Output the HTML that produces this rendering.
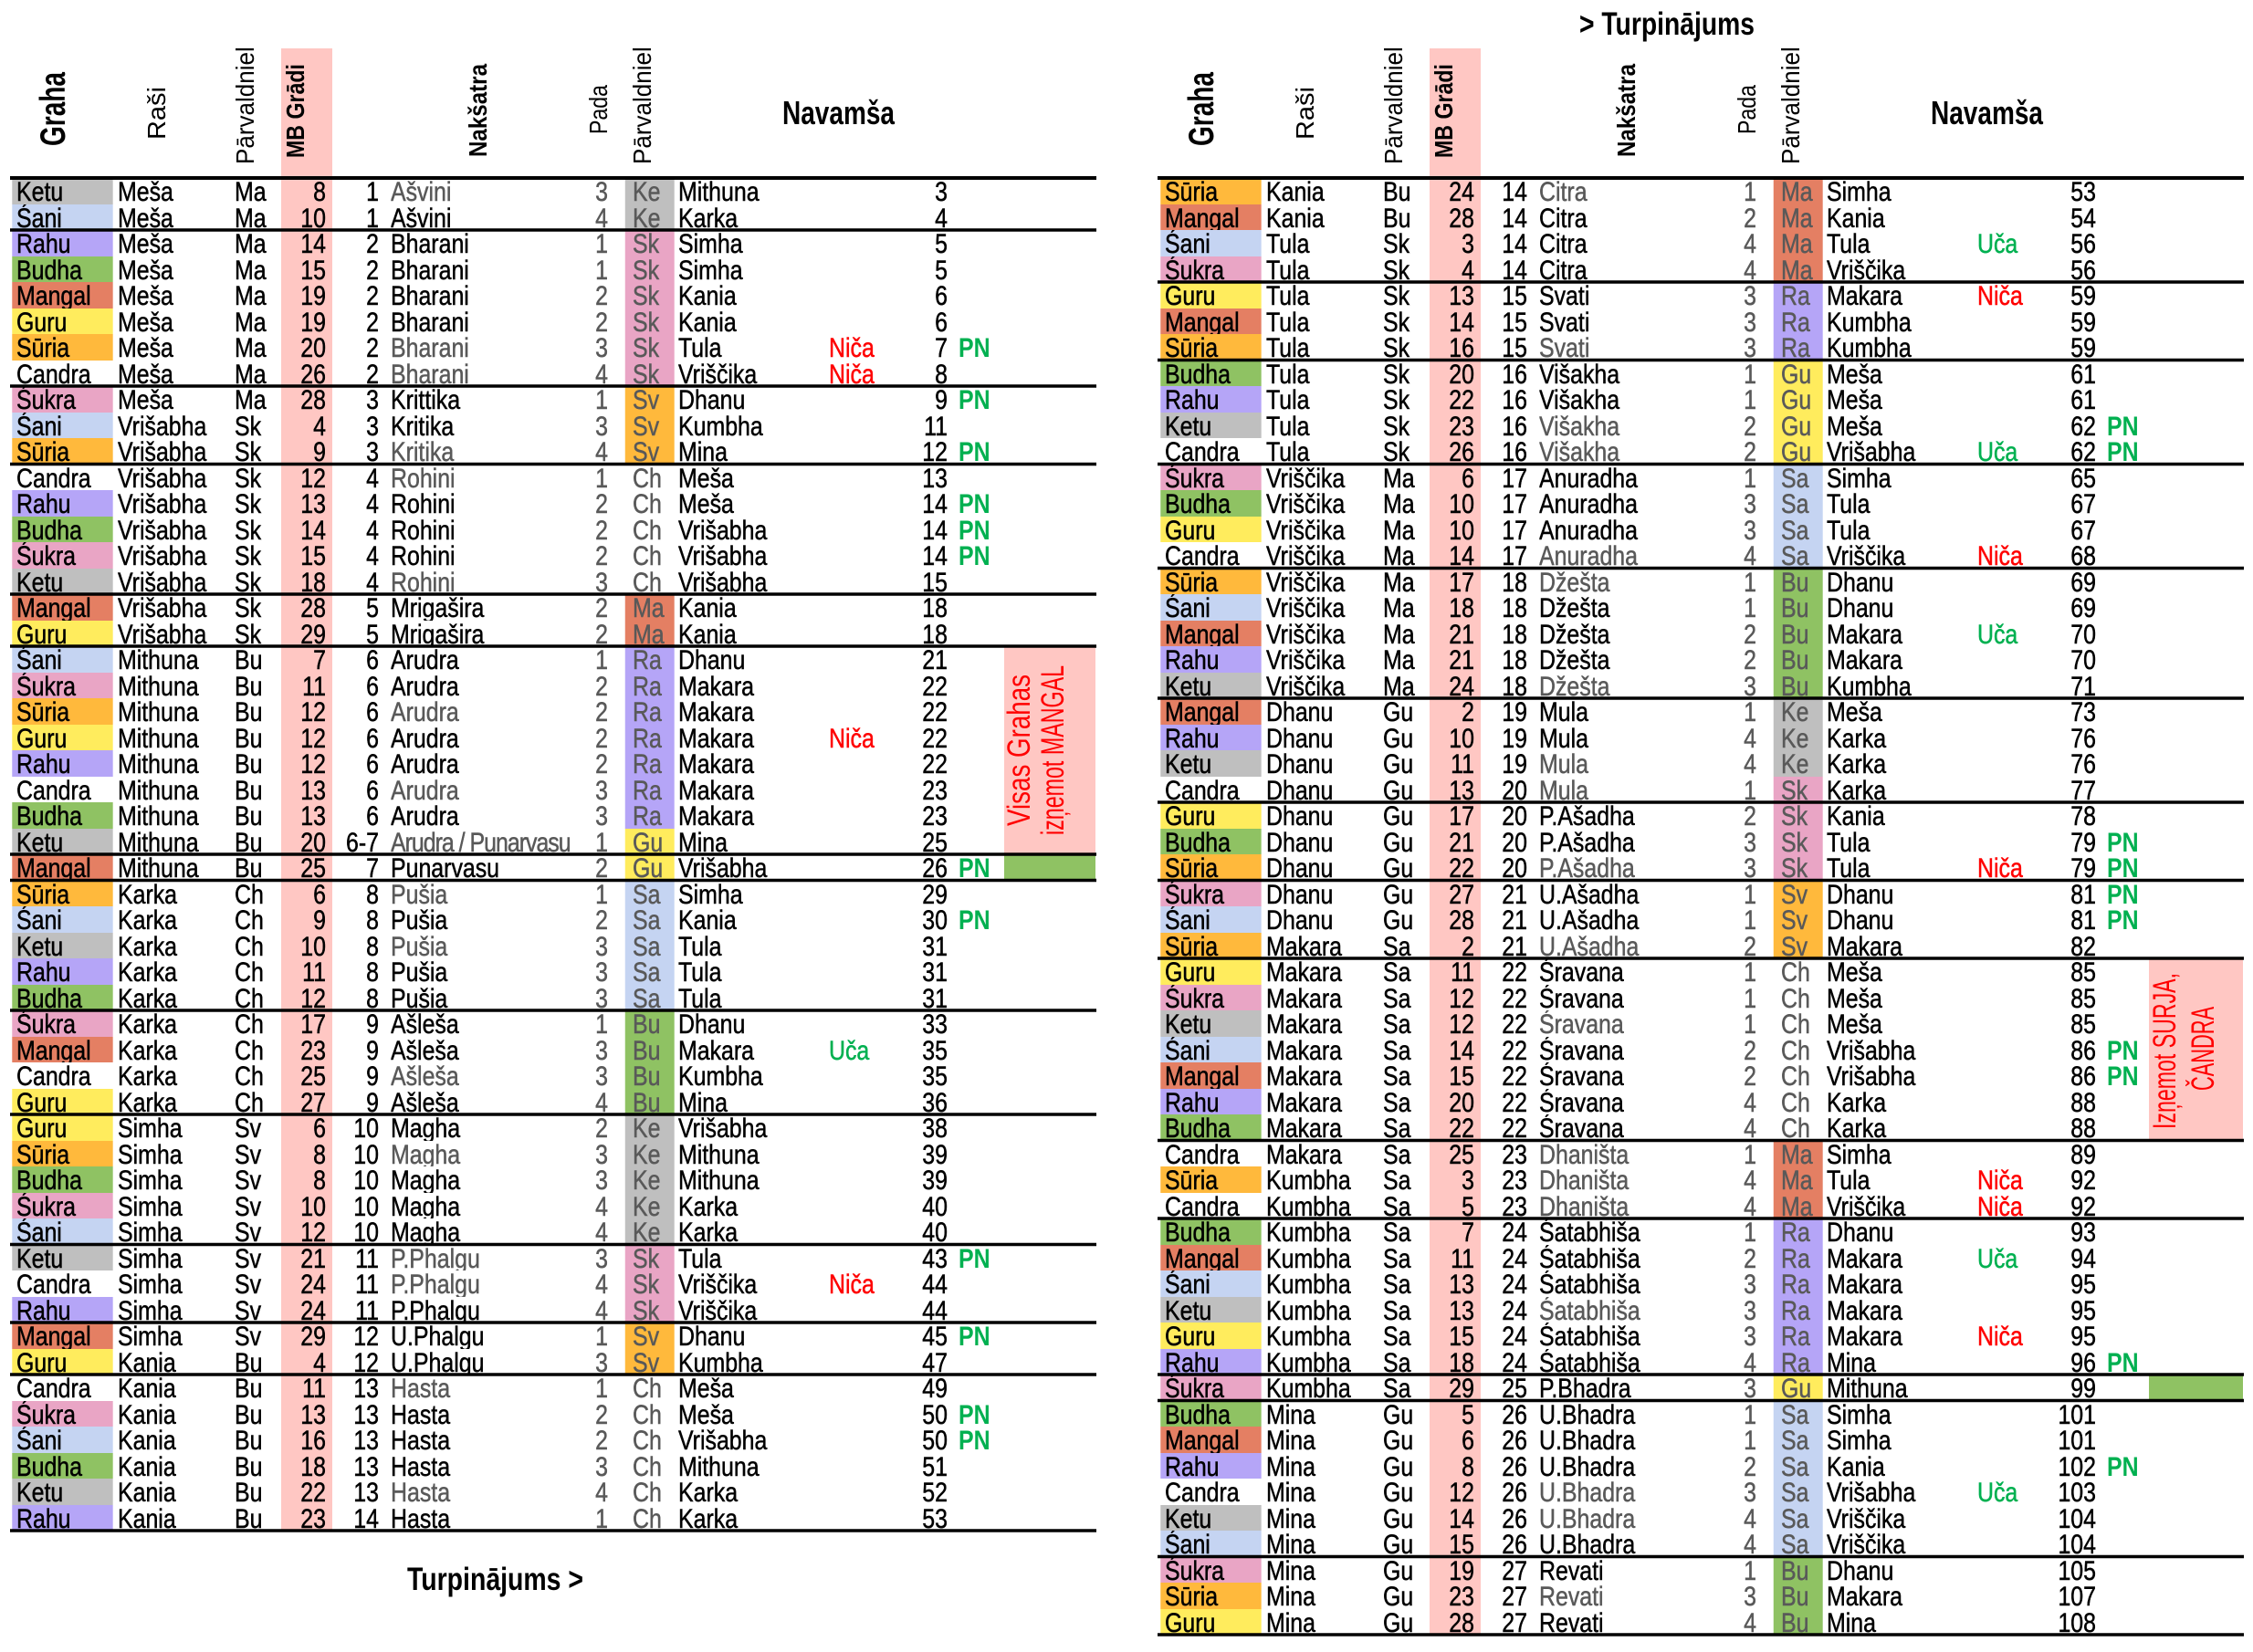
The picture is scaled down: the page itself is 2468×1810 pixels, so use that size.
<!DOCTYPE html>
<html><head><meta charset="utf-8">
<style>
html,body{margin:0;padding:0;background:#fff}
body{width:2468px;height:1810px;position:relative;overflow:hidden;font-family:"Liberation Sans",Arial,sans-serif}
svg{position:absolute;left:0;top:0}
.T{position:absolute;top:195px;width:1460px;transform:scaleX(.83);transform-origin:0 0;z-index:1}
.r{position:relative;height:28.5px}
.r i{position:absolute;top:0;height:28.5px;overflow:hidden;white-space:nowrap;font-style:normal;font-size:30px;line-height:31px;color:#000;-webkit-text-stroke-width:0.5px}
.r .g{left:15.66px;width:127.71px;padding-left:6.02px}
.r .rs{left:155.42px;width:150px}
.r .pv{left:309.64px;width:60px}
.r .mb{left:371.08px;width:59.04px;padding-right:8.43px;text-align:right}
.r .nn{left:439.76px;width:60.24px;text-align:right}
.r .nk{left:515.66px;width:285px}
.r .pd{left:746.99px;width:55.42px;text-align:right;color:#595959}
.r .p2{left:825.3px;width:55.42px;padding-left:9.64px;color:#595959}
.r .nv{left:895.18px;width:192px}
.r .nt{left:1093.98px;width:84px}
.r .nu{left:1186.75px;width:63.86px;text-align:right}
.r .pn{left:1265.06px;width:60px;color:#00b050;font-weight:bold;-webkit-text-stroke-width:0}
.r .y{color:#595959}
.r .N{color:#ff0000}
.r .U{color:#00b050}
.r .ke{background:#bfbfbf}
.r .sa{background:#c5d4f2}
.r .ra{background:#b5a5f7}
.r .bu{background:#8fc263}
.r .ma{background:#e47f63}
.r .gu{background:#ffec5d}
.r .su{background:#ffb93c}
.r .sk{background:#e9a5c5}
</style></head><body>
<svg width="2468" height="1810" style="z-index:0">
<defs><clipPath id="hc" clipPathUnits="userSpaceOnUse"><rect x="0" y="53" width="2468" height="150"/></clipPath></defs>
<rect x="308" y="53" width="56" height="1624" fill="#ffc7c3"/>
<rect x="1566" y="53" width="56" height="1738" fill="#ffc7c3"/>
<rect x="1100" y="708" width="100" height="228" fill="#ffc7c3"/>
<rect x="1100" y="936" width="100" height="28.5" fill="#8fc263"/>
<rect x="2354" y="1050" width="103" height="199.5" fill="#ffc7c3"/>
<rect x="2354" y="1506" width="103" height="28.5" fill="#8fc263"/>
<g font-family="Liberation Sans, Arial, sans-serif" fill="#ff0000" font-size="35">
<text transform="translate(1128,905) rotate(-90)" textLength="166" lengthAdjust="spacingAndGlyphs">Visas Grahas</text>
<text transform="translate(1165,915) rotate(-90)" textLength="186" lengthAdjust="spacingAndGlyphs">izņemot MANGAL</text>
<text transform="translate(2383,1237) rotate(-90)" textLength="171" lengthAdjust="spacingAndGlyphs">Izņemot SURJA,</text>
<text transform="translate(2425,1195) rotate(-90)" textLength="92" lengthAdjust="spacingAndGlyphs">ČANDRA</text>
</g>
<g font-family="Liberation Sans, Arial, sans-serif" fill="#000" font-size="28">
<text transform="translate(71,160) rotate(-90)" font-size="39" font-weight="bold" textLength="81" lengthAdjust="spacingAndGlyphs">Graha</text>
<text transform="translate(181,153) rotate(-90)" textLength="58" lengthAdjust="spacingAndGlyphs">Raši</text>
<g clip-path="url(#hc)"><text transform="translate(278,180) rotate(-90)" textLength="149" lengthAdjust="spacingAndGlyphs">Pārvaldnieks</text></g>
<text transform="translate(333,173) rotate(-90)" font-weight="bold" textLength="103" lengthAdjust="spacingAndGlyphs">MB Grādi</text>
<text transform="translate(533,172) rotate(-90)" font-weight="bold" textLength="102" lengthAdjust="spacingAndGlyphs">Nakšatra</text>
<text transform="translate(665,147) rotate(-90)" textLength="54" lengthAdjust="spacingAndGlyphs">Pada</text>
<g clip-path="url(#hc)"><text transform="translate(713,180) rotate(-90)" textLength="149" lengthAdjust="spacingAndGlyphs">Pārvaldnieks</text></g>
<text x="857" y="136" font-size="36" font-weight="bold" textLength="123" lengthAdjust="spacingAndGlyphs">Navamša</text>

<text transform="translate(1329,160) rotate(-90)" font-size="39" font-weight="bold" textLength="81" lengthAdjust="spacingAndGlyphs">Graha</text>
<text transform="translate(1439,153) rotate(-90)" textLength="58" lengthAdjust="spacingAndGlyphs">Raši</text>
<g clip-path="url(#hc)"><text transform="translate(1536,180) rotate(-90)" textLength="149" lengthAdjust="spacingAndGlyphs">Pārvaldnieks</text></g>
<text transform="translate(1591,173) rotate(-90)" font-weight="bold" textLength="103" lengthAdjust="spacingAndGlyphs">MB Grādi</text>
<text transform="translate(1791,172) rotate(-90)" font-weight="bold" textLength="102" lengthAdjust="spacingAndGlyphs">Nakšatra</text>
<text transform="translate(1923,147) rotate(-90)" textLength="54" lengthAdjust="spacingAndGlyphs">Pada</text>
<g clip-path="url(#hc)"><text transform="translate(1971,180) rotate(-90)" textLength="149" lengthAdjust="spacingAndGlyphs">Pārvaldnieks</text></g>
<text x="2115" y="136" font-size="36" font-weight="bold" textLength="123" lengthAdjust="spacingAndGlyphs">Navamša</text>

<text x="1730" y="38" font-size="35" font-weight="bold" textLength="192" lengthAdjust="spacingAndGlyphs">&gt; Turpinājums</text>
<text x="446" y="1742" font-size="35" font-weight="bold" textLength="193" lengthAdjust="spacingAndGlyphs">Turpinājums &gt;</text>
</g>
</svg>

<div class="T" style="left:0">
<div class="r"><i class="g ke">Ketu</i><i class="rs">Meša</i><i class="pv">Ma</i><i class="mb">8</i><i class="nn">1</i><i class="nk y">Ašvini</i><i class="pd">3</i><i class="p2 ke">Ke</i><i class="nv">Mithuna</i><i class="nu">3</i></div>
<div class="r"><i class="g sa">Śani</i><i class="rs">Meša</i><i class="pv">Ma</i><i class="mb">10</i><i class="nn">1</i><i class="nk">Ašvini</i><i class="pd">4</i><i class="p2 ke">Ke</i><i class="nv">Karka</i><i class="nu">4</i></div>
<div class="r"><i class="g ra">Rahu</i><i class="rs">Meša</i><i class="pv">Ma</i><i class="mb">14</i><i class="nn">2</i><i class="nk">Bharani</i><i class="pd">1</i><i class="p2 sk">Sk</i><i class="nv">Simha</i><i class="nu">5</i></div>
<div class="r"><i class="g bu">Budha</i><i class="rs">Meša</i><i class="pv">Ma</i><i class="mb">15</i><i class="nn">2</i><i class="nk">Bharani</i><i class="pd">1</i><i class="p2 sk">Sk</i><i class="nv">Simha</i><i class="nu">5</i></div>
<div class="r"><i class="g ma">Mangal</i><i class="rs">Meša</i><i class="pv">Ma</i><i class="mb">19</i><i class="nn">2</i><i class="nk">Bharani</i><i class="pd">2</i><i class="p2 sk">Sk</i><i class="nv">Kania</i><i class="nu">6</i></div>
<div class="r"><i class="g gu">Guru</i><i class="rs">Meša</i><i class="pv">Ma</i><i class="mb">19</i><i class="nn">2</i><i class="nk">Bharani</i><i class="pd">2</i><i class="p2 sk">Sk</i><i class="nv">Kania</i><i class="nu">6</i></div>
<div class="r"><i class="g su">Sūria</i><i class="rs">Meša</i><i class="pv">Ma</i><i class="mb">20</i><i class="nn">2</i><i class="nk y">Bharani</i><i class="pd">3</i><i class="p2 sk">Sk</i><i class="nv">Tula</i><i class="nt N">Niča</i><i class="nu">7</i><i class="pn">PN</i></div>
<div class="r"><i class="g">Candra</i><i class="rs">Meša</i><i class="pv">Ma</i><i class="mb">26</i><i class="nn">2</i><i class="nk y">Bharani</i><i class="pd">4</i><i class="p2 sk">Sk</i><i class="nv">Vriščika</i><i class="nt N">Niča</i><i class="nu">8</i></div>
<div class="r"><i class="g sk">Śukra</i><i class="rs">Meša</i><i class="pv">Ma</i><i class="mb">28</i><i class="nn">3</i><i class="nk">Krittika</i><i class="pd">1</i><i class="p2 su">Sv</i><i class="nv">Dhanu</i><i class="nu">9</i><i class="pn">PN</i></div>
<div class="r"><i class="g sa">Śani</i><i class="rs">Vrišabha</i><i class="pv">Sk</i><i class="mb">4</i><i class="nn">3</i><i class="nk">Kritika</i><i class="pd">3</i><i class="p2 su">Sv</i><i class="nv">Kumbha</i><i class="nu">11</i></div>
<div class="r"><i class="g su">Sūria</i><i class="rs">Vrišabha</i><i class="pv">Sk</i><i class="mb">9</i><i class="nn">3</i><i class="nk y">Kritika</i><i class="pd">4</i><i class="p2 su">Sv</i><i class="nv">Mina</i><i class="nu">12</i><i class="pn">PN</i></div>
<div class="r"><i class="g">Candra</i><i class="rs">Vrišabha</i><i class="pv">Sk</i><i class="mb">12</i><i class="nn">4</i><i class="nk y">Rohini</i><i class="pd">1</i><i class="p2">Ch</i><i class="nv">Meša</i><i class="nu">13</i></div>
<div class="r"><i class="g ra">Rahu</i><i class="rs">Vrišabha</i><i class="pv">Sk</i><i class="mb">13</i><i class="nn">4</i><i class="nk">Rohini</i><i class="pd">2</i><i class="p2">Ch</i><i class="nv">Meša</i><i class="nu">14</i><i class="pn">PN</i></div>
<div class="r"><i class="g bu">Budha</i><i class="rs">Vrišabha</i><i class="pv">Sk</i><i class="mb">14</i><i class="nn">4</i><i class="nk">Rohini</i><i class="pd">2</i><i class="p2">Ch</i><i class="nv">Vrišabha</i><i class="nu">14</i><i class="pn">PN</i></div>
<div class="r"><i class="g sk">Śukra</i><i class="rs">Vrišabha</i><i class="pv">Sk</i><i class="mb">15</i><i class="nn">4</i><i class="nk">Rohini</i><i class="pd">2</i><i class="p2">Ch</i><i class="nv">Vrišabha</i><i class="nu">14</i><i class="pn">PN</i></div>
<div class="r"><i class="g ke">Ketu</i><i class="rs">Vrišabha</i><i class="pv">Sk</i><i class="mb">18</i><i class="nn">4</i><i class="nk y">Rohini</i><i class="pd">3</i><i class="p2">Ch</i><i class="nv">Vrišabha</i><i class="nu">15</i></div>
<div class="r"><i class="g ma">Mangal</i><i class="rs">Vrišabha</i><i class="pv">Sk</i><i class="mb">28</i><i class="nn">5</i><i class="nk">Mrigašira</i><i class="pd">2</i><i class="p2 ma">Ma</i><i class="nv">Kania</i><i class="nu">18</i></div>
<div class="r"><i class="g gu">Guru</i><i class="rs">Vrišabha</i><i class="pv">Sk</i><i class="mb">29</i><i class="nn">5</i><i class="nk">Mrigašira</i><i class="pd">2</i><i class="p2 ma">Ma</i><i class="nv">Kania</i><i class="nu">18</i></div>
<div class="r"><i class="g sa">Śani</i><i class="rs">Mithuna</i><i class="pv">Bu</i><i class="mb">7</i><i class="nn">6</i><i class="nk">Arudra</i><i class="pd">1</i><i class="p2 ra">Ra</i><i class="nv">Dhanu</i><i class="nu">21</i></div>
<div class="r"><i class="g sk">Śukra</i><i class="rs">Mithuna</i><i class="pv">Bu</i><i class="mb">11</i><i class="nn">6</i><i class="nk">Arudra</i><i class="pd">2</i><i class="p2 ra">Ra</i><i class="nv">Makara</i><i class="nu">22</i></div>
<div class="r"><i class="g su">Sūria</i><i class="rs">Mithuna</i><i class="pv">Bu</i><i class="mb">12</i><i class="nn">6</i><i class="nk y">Arudra</i><i class="pd">2</i><i class="p2 ra">Ra</i><i class="nv">Makara</i><i class="nu">22</i></div>
<div class="r"><i class="g gu">Guru</i><i class="rs">Mithuna</i><i class="pv">Bu</i><i class="mb">12</i><i class="nn">6</i><i class="nk">Arudra</i><i class="pd">2</i><i class="p2 ra">Ra</i><i class="nv">Makara</i><i class="nt N">Niča</i><i class="nu">22</i></div>
<div class="r"><i class="g ra">Rahu</i><i class="rs">Mithuna</i><i class="pv">Bu</i><i class="mb">12</i><i class="nn">6</i><i class="nk">Arudra</i><i class="pd">2</i><i class="p2 ra">Ra</i><i class="nv">Makara</i><i class="nu">22</i></div>
<div class="r"><i class="g">Candra</i><i class="rs">Mithuna</i><i class="pv">Bu</i><i class="mb">13</i><i class="nn">6</i><i class="nk y">Arudra</i><i class="pd">3</i><i class="p2 ra">Ra</i><i class="nv">Makara</i><i class="nu">23</i></div>
<div class="r"><i class="g bu">Budha</i><i class="rs">Mithuna</i><i class="pv">Bu</i><i class="mb">13</i><i class="nn">6</i><i class="nk">Arudra</i><i class="pd">3</i><i class="p2 ra">Ra</i><i class="nv">Makara</i><i class="nu">23</i></div>
<div class="r"><i class="g ke">Ketu</i><i class="rs">Mithuna</i><i class="pv">Bu</i><i class="mb">20</i><i class="nn">6-7</i><i class="nk y" style="letter-spacing:-1.2px">Arudra / Punarvasu</i><i class="pd">1</i><i class="p2 gu">Gu</i><i class="nv">Mina</i><i class="nu">25</i></div>
<div class="r"><i class="g ma">Mangal</i><i class="rs">Mithuna</i><i class="pv">Bu</i><i class="mb">25</i><i class="nn">7</i><i class="nk">Punarvasu</i><i class="pd">2</i><i class="p2 gu">Gu</i><i class="nv">Vrišabha</i><i class="nu">26</i><i class="pn">PN</i></div>
<div class="r"><i class="g su">Sūria</i><i class="rs">Karka</i><i class="pv">Ch</i><i class="mb">6</i><i class="nn">8</i><i class="nk y">Pušia</i><i class="pd">1</i><i class="p2 sa">Sa</i><i class="nv">Simha</i><i class="nu">29</i></div>
<div class="r"><i class="g sa">Śani</i><i class="rs">Karka</i><i class="pv">Ch</i><i class="mb">9</i><i class="nn">8</i><i class="nk">Pušia</i><i class="pd">2</i><i class="p2 sa">Sa</i><i class="nv">Kania</i><i class="nu">30</i><i class="pn">PN</i></div>
<div class="r"><i class="g ke">Ketu</i><i class="rs">Karka</i><i class="pv">Ch</i><i class="mb">10</i><i class="nn">8</i><i class="nk y">Pušia</i><i class="pd">3</i><i class="p2 sa">Sa</i><i class="nv">Tula</i><i class="nu">31</i></div>
<div class="r"><i class="g ra">Rahu</i><i class="rs">Karka</i><i class="pv">Ch</i><i class="mb">11</i><i class="nn">8</i><i class="nk">Pušia</i><i class="pd">3</i><i class="p2 sa">Sa</i><i class="nv">Tula</i><i class="nu">31</i></div>
<div class="r"><i class="g bu">Budha</i><i class="rs">Karka</i><i class="pv">Ch</i><i class="mb">12</i><i class="nn">8</i><i class="nk">Pušia</i><i class="pd">3</i><i class="p2 sa">Sa</i><i class="nv">Tula</i><i class="nu">31</i></div>
<div class="r"><i class="g sk">Śukra</i><i class="rs">Karka</i><i class="pv">Ch</i><i class="mb">17</i><i class="nn">9</i><i class="nk">Ašleša</i><i class="pd">1</i><i class="p2 bu">Bu</i><i class="nv">Dhanu</i><i class="nu">33</i></div>
<div class="r"><i class="g ma">Mangal</i><i class="rs">Karka</i><i class="pv">Ch</i><i class="mb">23</i><i class="nn">9</i><i class="nk">Ašleša</i><i class="pd">3</i><i class="p2 bu">Bu</i><i class="nv">Makara</i><i class="nt U">Uča</i><i class="nu">35</i></div>
<div class="r"><i class="g">Candra</i><i class="rs">Karka</i><i class="pv">Ch</i><i class="mb">25</i><i class="nn">9</i><i class="nk y">Ašleša</i><i class="pd">3</i><i class="p2 bu">Bu</i><i class="nv">Kumbha</i><i class="nu">35</i></div>
<div class="r"><i class="g gu">Guru</i><i class="rs">Karka</i><i class="pv">Ch</i><i class="mb">27</i><i class="nn">9</i><i class="nk">Ašleša</i><i class="pd">4</i><i class="p2 bu">Bu</i><i class="nv">Mina</i><i class="nu">36</i></div>
<div class="r"><i class="g gu">Guru</i><i class="rs">Simha</i><i class="pv">Sv</i><i class="mb">6</i><i class="nn">10</i><i class="nk">Magha</i><i class="pd">2</i><i class="p2 ke">Ke</i><i class="nv">Vrišabha</i><i class="nu">38</i></div>
<div class="r"><i class="g su">Sūria</i><i class="rs">Simha</i><i class="pv">Sv</i><i class="mb">8</i><i class="nn">10</i><i class="nk y">Magha</i><i class="pd">3</i><i class="p2 ke">Ke</i><i class="nv">Mithuna</i><i class="nu">39</i></div>
<div class="r"><i class="g bu">Budha</i><i class="rs">Simha</i><i class="pv">Sv</i><i class="mb">8</i><i class="nn">10</i><i class="nk">Magha</i><i class="pd">3</i><i class="p2 ke">Ke</i><i class="nv">Mithuna</i><i class="nu">39</i></div>
<div class="r"><i class="g sk">Śukra</i><i class="rs">Simha</i><i class="pv">Sv</i><i class="mb">10</i><i class="nn">10</i><i class="nk">Magha</i><i class="pd">4</i><i class="p2 ke">Ke</i><i class="nv">Karka</i><i class="nu">40</i></div>
<div class="r"><i class="g sa">Śani</i><i class="rs">Simha</i><i class="pv">Sv</i><i class="mb">12</i><i class="nn">10</i><i class="nk">Magha</i><i class="pd">4</i><i class="p2 ke">Ke</i><i class="nv">Karka</i><i class="nu">40</i></div>
<div class="r"><i class="g ke">Ketu</i><i class="rs">Simha</i><i class="pv">Sv</i><i class="mb">21</i><i class="nn">11</i><i class="nk y">P.Phalgu</i><i class="pd">3</i><i class="p2 sk">Sk</i><i class="nv">Tula</i><i class="nu">43</i><i class="pn">PN</i></div>
<div class="r"><i class="g">Candra</i><i class="rs">Simha</i><i class="pv">Sv</i><i class="mb">24</i><i class="nn">11</i><i class="nk y">P.Phalgu</i><i class="pd">4</i><i class="p2 sk">Sk</i><i class="nv">Vriščika</i><i class="nt N">Niča</i><i class="nu">44</i></div>
<div class="r"><i class="g ra">Rahu</i><i class="rs">Simha</i><i class="pv">Sv</i><i class="mb">24</i><i class="nn">11</i><i class="nk">P.Phalgu</i><i class="pd">4</i><i class="p2 sk">Sk</i><i class="nv">Vriščika</i><i class="nu">44</i></div>
<div class="r"><i class="g ma">Mangal</i><i class="rs">Simha</i><i class="pv">Sv</i><i class="mb">29</i><i class="nn">12</i><i class="nk">U.Phalgu</i><i class="pd">1</i><i class="p2 su">Sv</i><i class="nv">Dhanu</i><i class="nu">45</i><i class="pn">PN</i></div>
<div class="r"><i class="g gu">Guru</i><i class="rs">Kania</i><i class="pv">Bu</i><i class="mb">4</i><i class="nn">12</i><i class="nk">U.Phalgu</i><i class="pd">3</i><i class="p2 su">Sv</i><i class="nv">Kumbha</i><i class="nu">47</i></div>
<div class="r"><i class="g">Candra</i><i class="rs">Kania</i><i class="pv">Bu</i><i class="mb">11</i><i class="nn">13</i><i class="nk y">Hasta</i><i class="pd">1</i><i class="p2">Ch</i><i class="nv">Meša</i><i class="nu">49</i></div>
<div class="r"><i class="g sk">Śukra</i><i class="rs">Kania</i><i class="pv">Bu</i><i class="mb">13</i><i class="nn">13</i><i class="nk">Hasta</i><i class="pd">2</i><i class="p2">Ch</i><i class="nv">Meša</i><i class="nu">50</i><i class="pn">PN</i></div>
<div class="r"><i class="g sa">Śani</i><i class="rs">Kania</i><i class="pv">Bu</i><i class="mb">16</i><i class="nn">13</i><i class="nk">Hasta</i><i class="pd">2</i><i class="p2">Ch</i><i class="nv">Vrišabha</i><i class="nu">50</i><i class="pn">PN</i></div>
<div class="r"><i class="g bu">Budha</i><i class="rs">Kania</i><i class="pv">Bu</i><i class="mb">18</i><i class="nn">13</i><i class="nk">Hasta</i><i class="pd">3</i><i class="p2">Ch</i><i class="nv">Mithuna</i><i class="nu">51</i></div>
<div class="r"><i class="g ke">Ketu</i><i class="rs">Kania</i><i class="pv">Bu</i><i class="mb">22</i><i class="nn">13</i><i class="nk y">Hasta</i><i class="pd">4</i><i class="p2">Ch</i><i class="nv">Karka</i><i class="nu">52</i></div>
<div class="r"><i class="g ra">Rahu</i><i class="rs">Kania</i><i class="pv">Bu</i><i class="mb">23</i><i class="nn">14</i><i class="nk">Hasta</i><i class="pd">1</i><i class="p2">Ch</i><i class="nv">Karka</i><i class="nu">53</i></div>
</div>

<div class="T" style="left:1258px">
<div class="r"><i class="g su">Sūria</i><i class="rs">Kania</i><i class="pv">Bu</i><i class="mb">24</i><i class="nn">14</i><i class="nk y">Citra</i><i class="pd">1</i><i class="p2 ma">Ma</i><i class="nv">Simha</i><i class="nu">53</i></div>
<div class="r"><i class="g ma">Mangal</i><i class="rs">Kania</i><i class="pv">Bu</i><i class="mb">28</i><i class="nn">14</i><i class="nk">Citra</i><i class="pd">2</i><i class="p2 ma">Ma</i><i class="nv">Kania</i><i class="nu">54</i></div>
<div class="r"><i class="g sa">Śani</i><i class="rs">Tula</i><i class="pv">Sk</i><i class="mb">3</i><i class="nn">14</i><i class="nk">Citra</i><i class="pd">4</i><i class="p2 ma">Ma</i><i class="nv">Tula</i><i class="nt U">Uča</i><i class="nu">56</i></div>
<div class="r"><i class="g sk">Śukra</i><i class="rs">Tula</i><i class="pv">Sk</i><i class="mb">4</i><i class="nn">14</i><i class="nk">Citra</i><i class="pd">4</i><i class="p2 ma">Ma</i><i class="nv">Vriščika</i><i class="nu">56</i></div>
<div class="r"><i class="g gu">Guru</i><i class="rs">Tula</i><i class="pv">Sk</i><i class="mb">13</i><i class="nn">15</i><i class="nk">Svati</i><i class="pd">3</i><i class="p2 ra">Ra</i><i class="nv">Makara</i><i class="nt N">Niča</i><i class="nu">59</i></div>
<div class="r"><i class="g ma">Mangal</i><i class="rs">Tula</i><i class="pv">Sk</i><i class="mb">14</i><i class="nn">15</i><i class="nk">Svati</i><i class="pd">3</i><i class="p2 ra">Ra</i><i class="nv">Kumbha</i><i class="nu">59</i></div>
<div class="r"><i class="g su">Sūria</i><i class="rs">Tula</i><i class="pv">Sk</i><i class="mb">16</i><i class="nn">15</i><i class="nk y">Svati</i><i class="pd">3</i><i class="p2 ra">Ra</i><i class="nv">Kumbha</i><i class="nu">59</i></div>
<div class="r"><i class="g bu">Budha</i><i class="rs">Tula</i><i class="pv">Sk</i><i class="mb">20</i><i class="nn">16</i><i class="nk">Višakha</i><i class="pd">1</i><i class="p2 gu">Gu</i><i class="nv">Meša</i><i class="nu">61</i></div>
<div class="r"><i class="g ra">Rahu</i><i class="rs">Tula</i><i class="pv">Sk</i><i class="mb">22</i><i class="nn">16</i><i class="nk">Višakha</i><i class="pd">1</i><i class="p2 gu">Gu</i><i class="nv">Meša</i><i class="nu">61</i></div>
<div class="r"><i class="g ke">Ketu</i><i class="rs">Tula</i><i class="pv">Sk</i><i class="mb">23</i><i class="nn">16</i><i class="nk y">Višakha</i><i class="pd">2</i><i class="p2 gu">Gu</i><i class="nv">Meša</i><i class="nu">62</i><i class="pn">PN</i></div>
<div class="r"><i class="g">Candra</i><i class="rs">Tula</i><i class="pv">Sk</i><i class="mb">26</i><i class="nn">16</i><i class="nk y">Višakha</i><i class="pd">2</i><i class="p2 gu">Gu</i><i class="nv">Vrišabha</i><i class="nt U">Uča</i><i class="nu">62</i><i class="pn">PN</i></div>
<div class="r"><i class="g sk">Śukra</i><i class="rs">Vriščika</i><i class="pv">Ma</i><i class="mb">6</i><i class="nn">17</i><i class="nk">Anuradha</i><i class="pd">1</i><i class="p2 sa">Sa</i><i class="nv">Simha</i><i class="nu">65</i></div>
<div class="r"><i class="g bu">Budha</i><i class="rs">Vriščika</i><i class="pv">Ma</i><i class="mb">10</i><i class="nn">17</i><i class="nk">Anuradha</i><i class="pd">3</i><i class="p2 sa">Sa</i><i class="nv">Tula</i><i class="nu">67</i></div>
<div class="r"><i class="g gu">Guru</i><i class="rs">Vriščika</i><i class="pv">Ma</i><i class="mb">10</i><i class="nn">17</i><i class="nk">Anuradha</i><i class="pd">3</i><i class="p2 sa">Sa</i><i class="nv">Tula</i><i class="nu">67</i></div>
<div class="r"><i class="g">Candra</i><i class="rs">Vriščika</i><i class="pv">Ma</i><i class="mb">14</i><i class="nn">17</i><i class="nk y">Anuradha</i><i class="pd">4</i><i class="p2 sa">Sa</i><i class="nv">Vriščika</i><i class="nt N">Niča</i><i class="nu">68</i></div>
<div class="r"><i class="g su">Sūria</i><i class="rs">Vriščika</i><i class="pv">Ma</i><i class="mb">17</i><i class="nn">18</i><i class="nk y">Džešta</i><i class="pd">1</i><i class="p2 bu">Bu</i><i class="nv">Dhanu</i><i class="nu">69</i></div>
<div class="r"><i class="g sa">Śani</i><i class="rs">Vriščika</i><i class="pv">Ma</i><i class="mb">18</i><i class="nn">18</i><i class="nk">Džešta</i><i class="pd">1</i><i class="p2 bu">Bu</i><i class="nv">Dhanu</i><i class="nu">69</i></div>
<div class="r"><i class="g ma">Mangal</i><i class="rs">Vriščika</i><i class="pv">Ma</i><i class="mb">21</i><i class="nn">18</i><i class="nk">Džešta</i><i class="pd">2</i><i class="p2 bu">Bu</i><i class="nv">Makara</i><i class="nt U">Uča</i><i class="nu">70</i></div>
<div class="r"><i class="g ra">Rahu</i><i class="rs">Vriščika</i><i class="pv">Ma</i><i class="mb">21</i><i class="nn">18</i><i class="nk">Džešta</i><i class="pd">2</i><i class="p2 bu">Bu</i><i class="nv">Makara</i><i class="nu">70</i></div>
<div class="r"><i class="g ke">Ketu</i><i class="rs">Vriščika</i><i class="pv">Ma</i><i class="mb">24</i><i class="nn">18</i><i class="nk y">Džešta</i><i class="pd">3</i><i class="p2 bu">Bu</i><i class="nv">Kumbha</i><i class="nu">71</i></div>
<div class="r"><i class="g ma">Mangal</i><i class="rs">Dhanu</i><i class="pv">Gu</i><i class="mb">2</i><i class="nn">19</i><i class="nk">Mula</i><i class="pd">1</i><i class="p2 ke">Ke</i><i class="nv">Meša</i><i class="nu">73</i></div>
<div class="r"><i class="g ra">Rahu</i><i class="rs">Dhanu</i><i class="pv">Gu</i><i class="mb">10</i><i class="nn">19</i><i class="nk">Mula</i><i class="pd">4</i><i class="p2 ke">Ke</i><i class="nv">Karka</i><i class="nu">76</i></div>
<div class="r"><i class="g ke">Ketu</i><i class="rs">Dhanu</i><i class="pv">Gu</i><i class="mb">11</i><i class="nn">19</i><i class="nk y">Mula</i><i class="pd">4</i><i class="p2 ke">Ke</i><i class="nv">Karka</i><i class="nu">76</i></div>
<div class="r"><i class="g">Candra</i><i class="rs">Dhanu</i><i class="pv">Gu</i><i class="mb">13</i><i class="nn">20</i><i class="nk y">Mula</i><i class="pd">1</i><i class="p2 sk">Sk</i><i class="nv">Karka</i><i class="nu">77</i></div>
<div class="r"><i class="g gu">Guru</i><i class="rs">Dhanu</i><i class="pv">Gu</i><i class="mb">17</i><i class="nn">20</i><i class="nk">P.Ašadha</i><i class="pd">2</i><i class="p2 sk">Sk</i><i class="nv">Kania</i><i class="nu">78</i></div>
<div class="r"><i class="g bu">Budha</i><i class="rs">Dhanu</i><i class="pv">Gu</i><i class="mb">21</i><i class="nn">20</i><i class="nk">P.Ašadha</i><i class="pd">3</i><i class="p2 sk">Sk</i><i class="nv">Tula</i><i class="nu">79</i><i class="pn">PN</i></div>
<div class="r"><i class="g su">Sūria</i><i class="rs">Dhanu</i><i class="pv">Gu</i><i class="mb">22</i><i class="nn">20</i><i class="nk y">P.Ašadha</i><i class="pd">3</i><i class="p2 sk">Sk</i><i class="nv">Tula</i><i class="nt N">Niča</i><i class="nu">79</i><i class="pn">PN</i></div>
<div class="r"><i class="g sk">Śukra</i><i class="rs">Dhanu</i><i class="pv">Gu</i><i class="mb">27</i><i class="nn">21</i><i class="nk">U.Ašadha</i><i class="pd">1</i><i class="p2 su">Sv</i><i class="nv">Dhanu</i><i class="nu">81</i><i class="pn">PN</i></div>
<div class="r"><i class="g sa">Śani</i><i class="rs">Dhanu</i><i class="pv">Gu</i><i class="mb">28</i><i class="nn">21</i><i class="nk">U.Ašadha</i><i class="pd">1</i><i class="p2 su">Sv</i><i class="nv">Dhanu</i><i class="nu">81</i><i class="pn">PN</i></div>
<div class="r"><i class="g su">Sūria</i><i class="rs">Makara</i><i class="pv">Sa</i><i class="mb">2</i><i class="nn">21</i><i class="nk y">U.Ašadha</i><i class="pd">2</i><i class="p2 su">Sv</i><i class="nv">Makara</i><i class="nu">82</i></div>
<div class="r"><i class="g gu">Guru</i><i class="rs">Makara</i><i class="pv">Sa</i><i class="mb">11</i><i class="nn">22</i><i class="nk">Śravana</i><i class="pd">1</i><i class="p2">Ch</i><i class="nv">Meša</i><i class="nu">85</i></div>
<div class="r"><i class="g sk">Śukra</i><i class="rs">Makara</i><i class="pv">Sa</i><i class="mb">12</i><i class="nn">22</i><i class="nk">Śravana</i><i class="pd">1</i><i class="p2">Ch</i><i class="nv">Meša</i><i class="nu">85</i></div>
<div class="r"><i class="g ke">Ketu</i><i class="rs">Makara</i><i class="pv">Sa</i><i class="mb">12</i><i class="nn">22</i><i class="nk y">Śravana</i><i class="pd">1</i><i class="p2">Ch</i><i class="nv">Meša</i><i class="nu">85</i></div>
<div class="r"><i class="g sa">Śani</i><i class="rs">Makara</i><i class="pv">Sa</i><i class="mb">14</i><i class="nn">22</i><i class="nk">Śravana</i><i class="pd">2</i><i class="p2">Ch</i><i class="nv">Vrišabha</i><i class="nu">86</i><i class="pn">PN</i></div>
<div class="r"><i class="g ma">Mangal</i><i class="rs">Makara</i><i class="pv">Sa</i><i class="mb">15</i><i class="nn">22</i><i class="nk">Śravana</i><i class="pd">2</i><i class="p2">Ch</i><i class="nv">Vrišabha</i><i class="nu">86</i><i class="pn">PN</i></div>
<div class="r"><i class="g ra">Rahu</i><i class="rs">Makara</i><i class="pv">Sa</i><i class="mb">20</i><i class="nn">22</i><i class="nk">Śravana</i><i class="pd">4</i><i class="p2">Ch</i><i class="nv">Karka</i><i class="nu">88</i></div>
<div class="r"><i class="g bu">Budha</i><i class="rs">Makara</i><i class="pv">Sa</i><i class="mb">22</i><i class="nn">22</i><i class="nk">Śravana</i><i class="pd">4</i><i class="p2">Ch</i><i class="nv">Karka</i><i class="nu">88</i></div>
<div class="r"><i class="g">Candra</i><i class="rs">Makara</i><i class="pv">Sa</i><i class="mb">25</i><i class="nn">23</i><i class="nk y">Dhaništa</i><i class="pd">1</i><i class="p2 ma">Ma</i><i class="nv">Simha</i><i class="nu">89</i></div>
<div class="r"><i class="g su">Sūria</i><i class="rs">Kumbha</i><i class="pv">Sa</i><i class="mb">3</i><i class="nn">23</i><i class="nk y">Dhaništa</i><i class="pd">4</i><i class="p2 ma">Ma</i><i class="nv">Tula</i><i class="nt N">Niča</i><i class="nu">92</i></div>
<div class="r"><i class="g">Candra</i><i class="rs">Kumbha</i><i class="pv">Sa</i><i class="mb">5</i><i class="nn">23</i><i class="nk y">Dhaništa</i><i class="pd">4</i><i class="p2 ma">Ma</i><i class="nv">Vriščika</i><i class="nt N">Niča</i><i class="nu">92</i></div>
<div class="r"><i class="g bu">Budha</i><i class="rs">Kumbha</i><i class="pv">Sa</i><i class="mb">7</i><i class="nn">24</i><i class="nk">Śatabhiša</i><i class="pd">1</i><i class="p2 ra">Ra</i><i class="nv">Dhanu</i><i class="nu">93</i></div>
<div class="r"><i class="g ma">Mangal</i><i class="rs">Kumbha</i><i class="pv">Sa</i><i class="mb">11</i><i class="nn">24</i><i class="nk">Śatabhiša</i><i class="pd">2</i><i class="p2 ra">Ra</i><i class="nv">Makara</i><i class="nt U">Uča</i><i class="nu">94</i></div>
<div class="r"><i class="g sa">Śani</i><i class="rs">Kumbha</i><i class="pv">Sa</i><i class="mb">13</i><i class="nn">24</i><i class="nk">Śatabhiša</i><i class="pd">3</i><i class="p2 ra">Ra</i><i class="nv">Makara</i><i class="nu">95</i></div>
<div class="r"><i class="g ke">Ketu</i><i class="rs">Kumbha</i><i class="pv">Sa</i><i class="mb">13</i><i class="nn">24</i><i class="nk y">Śatabhiša</i><i class="pd">3</i><i class="p2 ra">Ra</i><i class="nv">Makara</i><i class="nu">95</i></div>
<div class="r"><i class="g gu">Guru</i><i class="rs">Kumbha</i><i class="pv">Sa</i><i class="mb">15</i><i class="nn">24</i><i class="nk">Śatabhiša</i><i class="pd">3</i><i class="p2 ra">Ra</i><i class="nv">Makara</i><i class="nt N">Niča</i><i class="nu">95</i></div>
<div class="r"><i class="g ra">Rahu</i><i class="rs">Kumbha</i><i class="pv">Sa</i><i class="mb">18</i><i class="nn">24</i><i class="nk">Śatabhiša</i><i class="pd">4</i><i class="p2 ra">Ra</i><i class="nv">Mina</i><i class="nu">96</i><i class="pn">PN</i></div>
<div class="r"><i class="g sk">Śukra</i><i class="rs">Kumbha</i><i class="pv">Sa</i><i class="mb">29</i><i class="nn">25</i><i class="nk">P.Bhadra</i><i class="pd">3</i><i class="p2 gu">Gu</i><i class="nv">Mithuna</i><i class="nu">99</i></div>
<div class="r"><i class="g bu">Budha</i><i class="rs">Mina</i><i class="pv">Gu</i><i class="mb">5</i><i class="nn">26</i><i class="nk">U.Bhadra</i><i class="pd">1</i><i class="p2 sa">Sa</i><i class="nv">Simha</i><i class="nu">101</i></div>
<div class="r"><i class="g ma">Mangal</i><i class="rs">Mina</i><i class="pv">Gu</i><i class="mb">6</i><i class="nn">26</i><i class="nk">U.Bhadra</i><i class="pd">1</i><i class="p2 sa">Sa</i><i class="nv">Simha</i><i class="nu">101</i></div>
<div class="r"><i class="g ra">Rahu</i><i class="rs">Mina</i><i class="pv">Gu</i><i class="mb">8</i><i class="nn">26</i><i class="nk">U.Bhadra</i><i class="pd">2</i><i class="p2 sa">Sa</i><i class="nv">Kania</i><i class="nu">102</i><i class="pn">PN</i></div>
<div class="r"><i class="g">Candra</i><i class="rs">Mina</i><i class="pv">Gu</i><i class="mb">12</i><i class="nn">26</i><i class="nk y">U.Bhadra</i><i class="pd">3</i><i class="p2 sa">Sa</i><i class="nv">Vrišabha</i><i class="nt U">Uča</i><i class="nu">103</i></div>
<div class="r"><i class="g ke">Ketu</i><i class="rs">Mina</i><i class="pv">Gu</i><i class="mb">14</i><i class="nn">26</i><i class="nk y">U.Bhadra</i><i class="pd">4</i><i class="p2 sa">Sa</i><i class="nv">Vriščika</i><i class="nu">104</i></div>
<div class="r"><i class="g sa">Śani</i><i class="rs">Mina</i><i class="pv">Gu</i><i class="mb">15</i><i class="nn">26</i><i class="nk">U.Bhadra</i><i class="pd">4</i><i class="p2 sa">Sa</i><i class="nv">Vriščika</i><i class="nu">104</i></div>
<div class="r"><i class="g sk">Śukra</i><i class="rs">Mina</i><i class="pv">Gu</i><i class="mb">19</i><i class="nn">27</i><i class="nk">Revati</i><i class="pd">1</i><i class="p2 bu">Bu</i><i class="nv">Dhanu</i><i class="nu">105</i></div>
<div class="r"><i class="g su">Sūria</i><i class="rs">Mina</i><i class="pv">Gu</i><i class="mb">23</i><i class="nn">27</i><i class="nk y">Revati</i><i class="pd">3</i><i class="p2 bu">Bu</i><i class="nv">Makara</i><i class="nu">107</i></div>
<div class="r"><i class="g gu">Guru</i><i class="rs">Mina</i><i class="pv">Gu</i><i class="mb">28</i><i class="nn">27</i><i class="nk">Revati</i><i class="pd">4</i><i class="p2 bu">Bu</i><i class="nv">Mina</i><i class="nu">108</i></div>
</div>

<svg width="2468" height="1810" style="z-index:2">
<g fill="#000">
<rect x="11" y="193" width="1190" height="4"/>
<rect x="11" y="250.25" width="1190" height="3.5"/>
<rect x="11" y="421.25" width="1190" height="3.5"/>
<rect x="11" y="506.75" width="1190" height="3.5"/>
<rect x="11" y="649.25" width="1190" height="3.5"/>
<rect x="11" y="706.25" width="1190" height="3.5"/>
<rect x="11" y="934.25" width="1190" height="3.5"/>
<rect x="11" y="962.75" width="1190" height="3.5"/>
<rect x="11" y="1105.25" width="1190" height="3.5"/>
<rect x="11" y="1219.25" width="1190" height="3.5"/>
<rect x="11" y="1361.75" width="1190" height="3.5"/>
<rect x="11" y="1447.25" width="1190" height="3.5"/>
<rect x="11" y="1504.25" width="1190" height="3.5"/>
<rect x="11" y="1675.25" width="1190" height="3.5"/>

<rect x="1268" y="193" width="1190" height="4"/>
<rect x="1268" y="307.25" width="1190" height="3.5"/>
<rect x="1268" y="392.75" width="1190" height="3.5"/>
<rect x="1268" y="506.75" width="1190" height="3.5"/>
<rect x="1268" y="620.75" width="1190" height="3.5"/>
<rect x="1268" y="763.25" width="1190" height="3.5"/>
<rect x="1268" y="877.25" width="1190" height="3.5"/>
<rect x="1268" y="962.75" width="1190" height="3.5"/>
<rect x="1268" y="1048.25" width="1190" height="3.5"/>
<rect x="1268" y="1247.75" width="1190" height="3.5"/>
<rect x="1268" y="1333.25" width="1190" height="3.5"/>
<rect x="1268" y="1504.25" width="1190" height="3.5"/>
<rect x="1268" y="1532.75" width="1190" height="3.5"/>
<rect x="1268" y="1703.75" width="1190" height="3.5"/>
<rect x="1268" y="1789.25" width="1190" height="3.5"/>
</g>
</svg>
</body></html>
